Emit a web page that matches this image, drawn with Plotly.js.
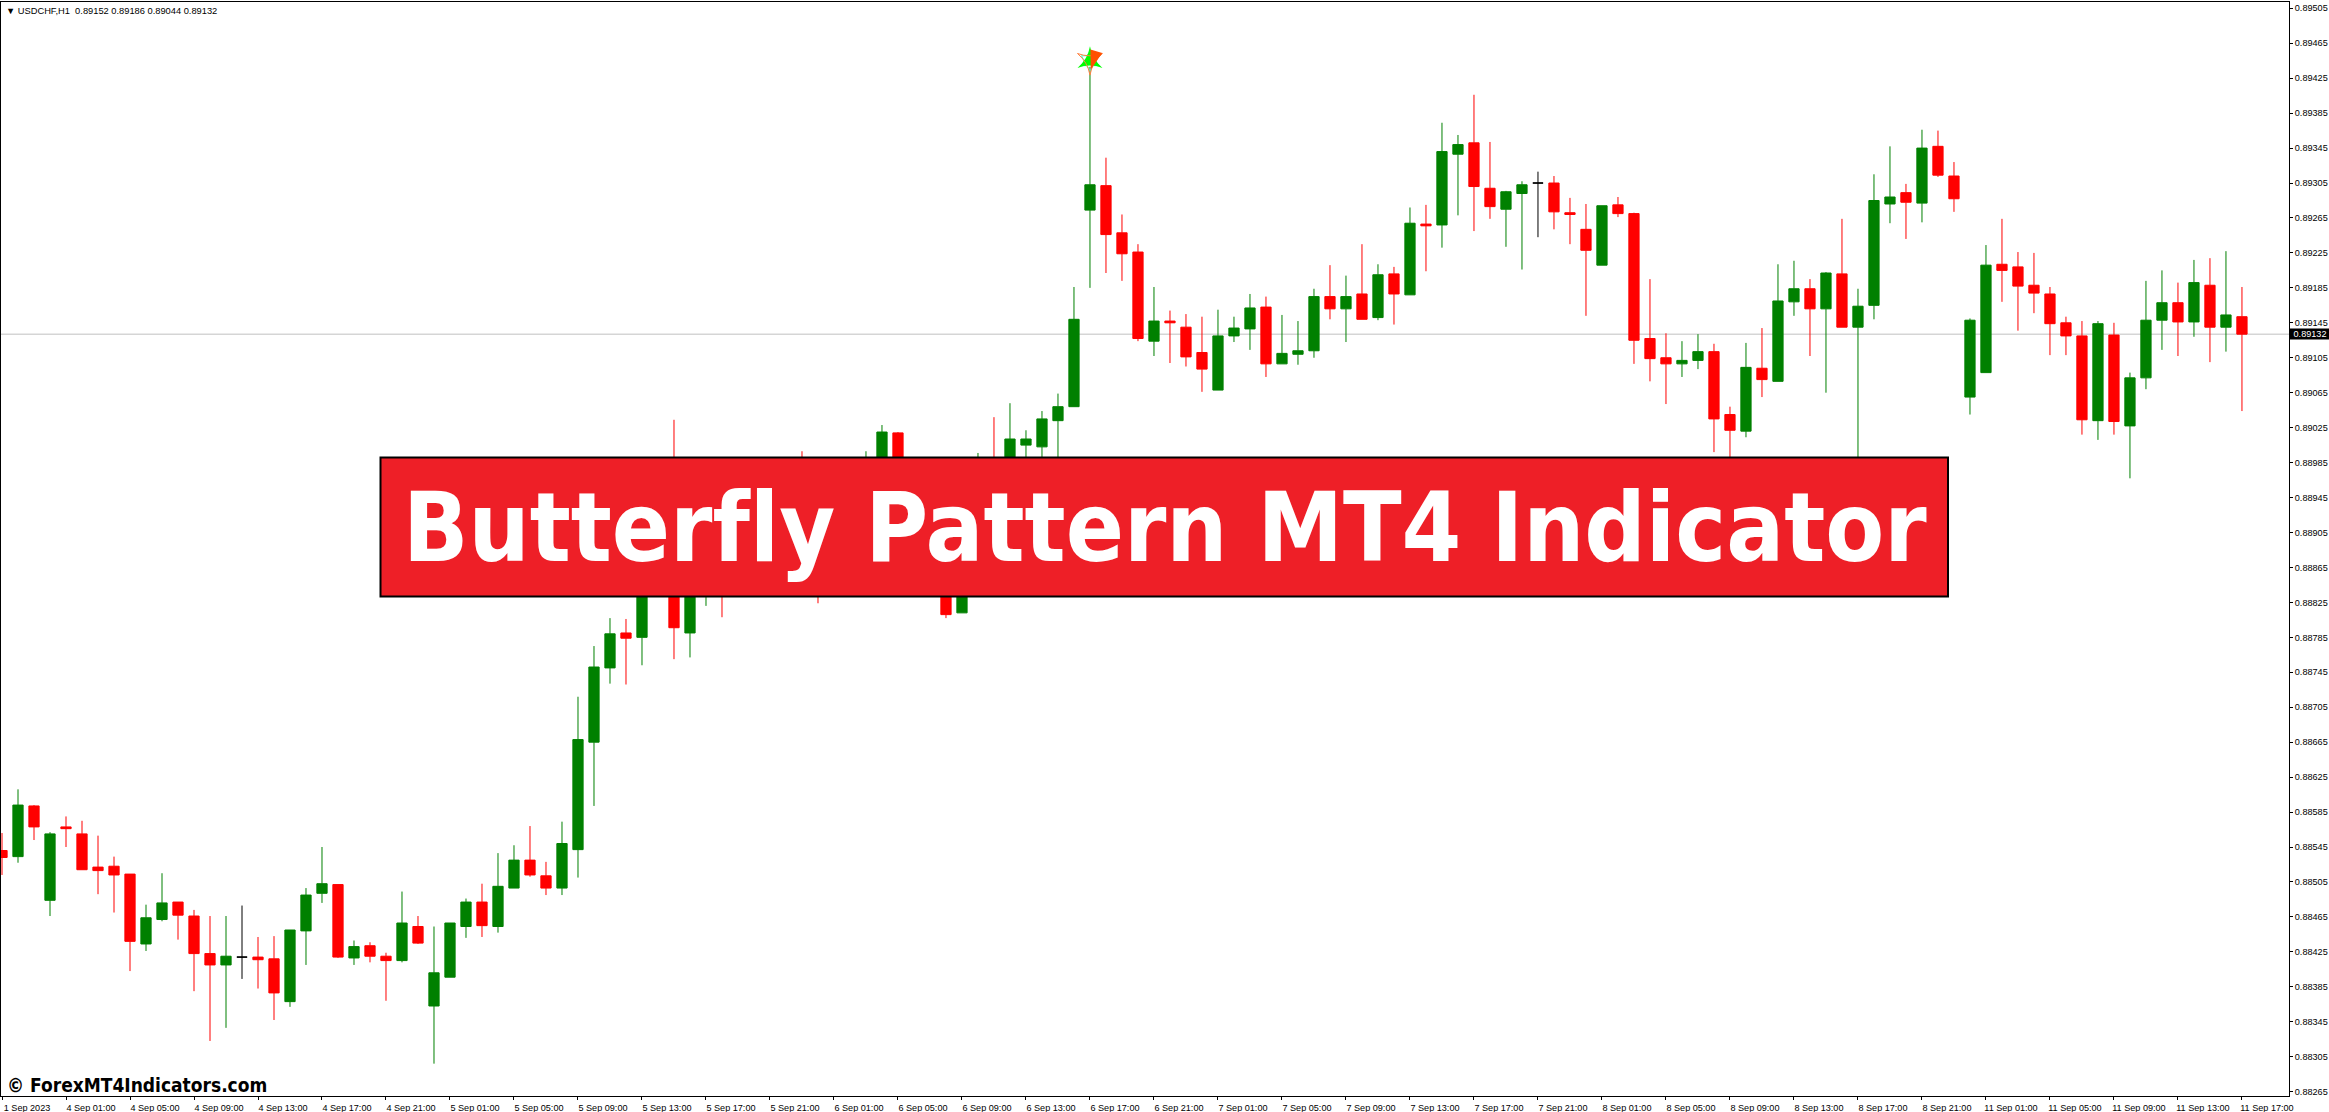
<!DOCTYPE html>
<html>
<head>
<meta charset="utf-8">
<script src="https://cdn.plot.ly/plotly-3.0.1.min.js"></script>
<style>html,body{margin:0;padding:0;background:#fff}#chart{width:2329px;height:1112px}
svg text{font-variant-ligatures:none;font-feature-settings:"liga" 0,"clig" 0}</style>
</head>
<body>
<div id="chart"></div>
<script>
const openPrice=[
.88541,.88534,.88592,.88484,.88568,.88560,.88522,.88523,.88514,.88434,
.88462,.88482,.88466,.88423,.88410,.88419,.88419,.88417,.88368,.88449,
.88492,.88502,.88418,.88432,.88420,.88415,.88454,.88363,.88396,.88454,
.88482,.88454,.88498,.88530,.88512,.88498,.88542,.88665,.88750,.88790,
.88785,.88860,.88900,.88790,.88880,.88910,.88880,.88905,.88885,.88920,
.88895,.88885,.88860,.88910,.88895,.88960,.89019,.88950,.88900,.88870,
.88813,.88860,.88985,.88960,.89005,.89003,.89033,.89049,.89274,.89302,
.89248,.89226,.89124,.89147,.89140,.89111,.89068,.89130,.89138,.89163,
.89098,.89109,.89113,.89175,.89161,.89178,.89151,.89201,.89177,.89258,
.89257,.89338,.89351,.89299,.89275,.89293,.89305,.89305,.89271,.89252,
.89211,.89280,.89270,.89127,.89105,.89098,.89102,.89112,.89040,.89021,
.89093,.89078,.89169,.89184,.89161,.89201,.89140,.89165,.89281,.89294,
.89282,.89347,.89313,.89060,.89088,.89212,.89209,.89188,.89178,.89145,
.89130,.89033,.89131,.89027,.89082,.89148,.89168,.89146,.89188,.89140,
.89152];
const highPrice=[
.88561,.88611,.88593,.88562,.88580,.88575,.88558,.88534,.88514,.88479,
.88515,.88482,.88473,.88466,.88466,.88478,.88442,.88443,.88450,.88498,
.88545,.88502,.88438,.88436,.88424,.88494,.88466,.88454,.88458,.88486,
.88503,.88538,.88547,.88569,.88528,.88574,.88717,.88775,.88807,.88806,
.88870,.88900,.89034,.88900,.88935,.88940,.88925,.88930,.88945,.88940,
.88998,.88930,.88925,.88945,.88998,.89028,.89020,.88975,.88930,.88910,
.88880,.88996,.89037,.89053,.89022,.89044,.89064,.89186,.89438,.89334,
.89269,.89235,.89186,.89159,.89155,.89152,.89160,.89152,.89178,.89175,
.89154,.89147,.89184,.89211,.89199,.89235,.89212,.89209,.89277,.89280,
.89374,.89360,.89406,.89352,.89296,.89307,.89318,.89313,.89288,.89281,
.89279,.89289,.89271,.89195,.89133,.89124,.89132,.89121,.89049,.89122,
.89139,.89212,.89216,.89195,.89203,.89264,.89184,.89315,.89347,.89304,
.89366,.89365,.89329,.89150,.89234,.89264,.89226,.89225,.89186,.89152,
.89147,.89147,.89145,.89088,.89193,.89205,.89191,.89217,.89219,.89227,
.89186];
const lowPrice=[
.88513,.88527,.88553,.88466,.88545,.88519,.88491,.88470,.88403,.88426,
.88460,.88439,.88380,.88323,.88338,.88394,.88383,.88347,.88362,.88410,
.88481,.88418,.88410,.88413,.88369,.88413,.88434,.88297,.88396,.88441,
.88442,.88447,.88498,.88511,.88490,.88490,.88510,.88592,.88732,.88731,
.88753,.88840,.88760,.88762,.88821,.88808,.88850,.88860,.88870,.88875,
.88865,.88824,.88845,.88880,.88880,.88935,.88930,.88890,.88850,.88807,
.88813,.88845,.88910,.88940,.88960,.88970,.88985,.89049,.89185,.89202,
.89193,.89124,.89107,.89099,.89095,.89066,.89068,.89123,.89114,.89083,
.89098,.89097,.89105,.89149,.89123,.89149,.89148,.89143,.89177,.89204,
.89231,.89268,.89250,.89264,.89232,.89206,.89243,.89252,.89235,.89153,
.89211,.89266,.89098,.89078,.89052,.89083,.89092,.88997,.88985,.89014,
.89060,.89078,.89153,.89107,.89065,.89140,.88960,.89149,.89259,.89241,
.89260,.89312,.89272,.89040,.89088,.89169,.89136,.89156,.89108,.89108,
.89017,.89011,.89017,.88967,.89069,.89114,.89107,.89129,.89100,.89112,
.89044];
const closePrice=[
.88533,.88593,.88568,.88560,.88566,.88519,.88518,.88513,.88437,.88464,
.88481,.88467,.88423,.88410,.88420,.88419,.88416,.88378,.88450,.88490,
.88503,.88419,.88431,.88420,.88415,.88458,.88435,.88401,.88458,.88482,
.88455,.88500,.88530,.88513,.88498,.88549,.88668,.88751,.88789,.88784,
.88860,.88890,.88796,.88880,.88910,.88880,.88905,.88885,.88920,.88895,
.88885,.88860,.88910,.88895,.88960,.89020,.88950,.88900,.88870,.88811,
.88860,.88950,.88960,.89012,.89012,.89035,.89049,.89149,.89303,.89246,
.89224,.89127,.89147,.89145,.89106,.89092,.89130,.89139,.89162,.89098,
.89110,.89113,.89175,.89161,.89175,.89149,.89200,.89178,.89259,.89256,
.89341,.89349,.89301,.89278,.89295,.89303,.89305,.89272,.89269,.89228,
.89279,.89270,.89125,.89104,.89098,.89102,.89112,.89035,.89022,.89094,
.89080,.89170,.89184,.89161,.89202,.89140,.89164,.89285,.89289,.89283,
.89345,.89314,.89287,.89148,.89211,.89205,.89187,.89179,.89144,.89130,
.89034,.89144,.89032,.89082,.89148,.89168,.89146,.89191,.89140,.89154,
.89132];
const timeTickBars=[0,4,8,12,16,20,24,28,32,36,40,44,48,52,56,60,64,68,72,76,80,84,88,92,96,100,104,108,112,116,120,124,128,132,136,140];
const timeTickLabels=["1 Sep 2023","4 Sep 01:00","4 Sep 05:00","4 Sep 09:00","4 Sep 13:00","4 Sep 17:00","4 Sep 21:00",
"5 Sep 01:00","5 Sep 05:00","5 Sep 09:00","5 Sep 13:00","5 Sep 17:00","5 Sep 21:00",
"6 Sep 01:00","6 Sep 05:00","6 Sep 09:00","6 Sep 13:00","6 Sep 17:00","6 Sep 21:00",
"7 Sep 01:00","7 Sep 05:00","7 Sep 09:00","7 Sep 13:00","7 Sep 17:00","7 Sep 21:00",
"8 Sep 01:00","8 Sep 05:00","8 Sep 09:00","8 Sep 13:00","8 Sep 17:00","8 Sep 21:00",
"11 Sep 01:00","11 Sep 05:00","11 Sep 09:00","11 Sep 13:00","11 Sep 17:00"];
const priceTicks=[.88265,.88305,.88345,.88385,.88425,.88465,.88505,.88545,.88585,.88625,.88665,.88705,.88745,.88785,.88825,.88865,.88905,.88945,.88985,.89025,.89065,.89105,.89145,.89185,.89225,.89265,.89305,.89345,.89385,.89425,.89465,.89505];
const lastPrice=0.89132;
const patternBar=[68];
const patternPrice=[0.89445];
const arrowTipBar=[68.05];
const arrowTipPrice=[0.89435];
const headerText="\u25BC\u00A0USDCHF,H1\u00A0\u00A00.89152 0.89186 0.89044 0.89132";
const bannerText="Butterfly Pattern MT4 Indicator";
const watermarkText="\u00A9 ForexMT4Indicators.com";

const bars=openPrice.map((_,i)=>i);
const pick=(arr,idx)=>idx.map(i=>arr[i]);
const regular=bars.filter(i=>openPrice[i]!==closePrice[i]);
const doji=bars.filter(i=>openPrice[i]===closePrice[i]);
const candle=(idx,up,down)=>({
  type:'candlestick',x:idx,open:pick(openPrice,idx),high:pick(highPrice,idx),low:pick(lowPrice,idx),close:pick(closePrice,idx),
  increasing:{line:{color:up,width:1},fillcolor:up},decreasing:{line:{color:down,width:1},fillcolor:down},
  whiskerwidth:0,hoverinfo:'skip',showlegend:false
});
const patternMark=(xs,ys,symbol,size,color,extra)=>({
  type:'scatter',mode:'markers',x:xs,y:ys,hoverinfo:'skip',showlegend:false,cliponaxis:false,
  marker:Object.assign({symbol:symbol,size:size,color:color},extra||{})
});
const traces=[
  candle(regular,'#008000','#ff0000'),
  candle(doji,'#000000','#000000'),
  patternMark(patternBar,patternPrice,'hexagram-open',15,'#40ffd0',{line:{width:1,color:'#40ffd0'}}),
  patternMark(patternBar,patternPrice,'star-triangle-up',18,'#00ff00'),
  patternMark(patternBar,patternPrice,'star-triangle-down-open',18,'#ff8040',{line:{width:1,color:'#ff8040'}}),
  patternMark(arrowTipBar,arrowTipPrice,'arrow',20,'#ff5000',{angle:197,line:{width:0}})
];
const axisFont={family:'Liberation Sans, Arial, sans-serif',size:9.1,color:'#000'};
const layout={
  width:2329,height:1112,
  margin:{l:1,r:40,t:2,b:16,pad:0,autoexpand:false},
  paper_bgcolor:'#fff',plot_bgcolor:'#fff',showlegend:false,dragmode:false,boxgap:0.36,boxgroupgap:0,
  title:{text:headerText,x:6/2329,xanchor:'left',y:1-10.7/1112,yanchor:'middle',pad:{t:0,l:0,r:0,b:0},
    font:{family:'Liberation Sans, Arial, sans-serif',size:9.3,color:'#000'}},
  xaxis:{type:'linear',range:[-0.0625,142.94],rangeslider:{visible:false},showgrid:false,zeroline:false,
    tickmode:'array',tickvals:timeTickBars,ticktext:timeTickLabels,tickangle:0,ticks:'outside',ticklen:3,tickwidth:1,tickcolor:'#000',
    ticklabelshift:25,ticklabeloverflow:'allow',
    showline:true,linecolor:'#000',linewidth:1,mirror:true,tickfont:axisFont,automargin:false},
  yaxis:{type:'linear',side:'right',range:[0.88260,0.895122],showgrid:false,zeroline:false,
    tickmode:'array',tickvals:priceTicks,ticktext:priceTicks.map(v=>v.toFixed(5)),ticks:'outside',ticklen:3,tickwidth:1,tickcolor:'#000',
    showline:true,linecolor:'#000',linewidth:1,mirror:true,tickfont:axisFont,automargin:false},
  shapes:[
    {type:'line',xref:'paper',x0:0,x1:1,yref:'y',y0:lastPrice,y1:lastPrice,line:{color:'#c0c0c0',width:1},layer:'below'},
    {type:'rect',xref:'paper',yref:'paper',x0:(380.5-1)/2288,x1:(1948-1)/2288,y0:(1096-596.5)/1094,y1:(1096-457.5)/1094,
      fillcolor:'#ee1f27',line:{color:'#000',width:2},layer:'above'}
  ],
  annotations:[
    {xref:'paper',yref:'y',x:1,y:lastPrice,xanchor:'left',yanchor:'middle',showarrow:false,text:lastPrice.toFixed(5),
     width:40,height:10,borderpad:0,bgcolor:'#000',font:{family:'Liberation Sans, Arial, sans-serif',size:9.1,color:'#fff'}},
    {xref:'paper',yref:'paper',x:(1165-1)/2288,y:(1096-528)/1094,xanchor:'center',yanchor:'middle',showarrow:false,text:bannerText,
     font:{family:'"DejaVu Sans Condensed","DejaVu Sans",sans-serif',size:95.5,weight:700,color:'#fff'}},
    {xref:'paper',yref:'paper',x:(4.5-1)/2288,y:(1096-1085)/1094,xanchor:'left',yanchor:'middle',showarrow:false,text:watermarkText,
     font:{family:'"DejaVu Sans Condensed","DejaVu Sans",sans-serif',size:19,weight:700,color:'#000'}}
  ]
};
Plotly.newPlot('chart',traces,layout,{displayModeBar:false,staticPlot:true});
</script>
</body>
</html>
